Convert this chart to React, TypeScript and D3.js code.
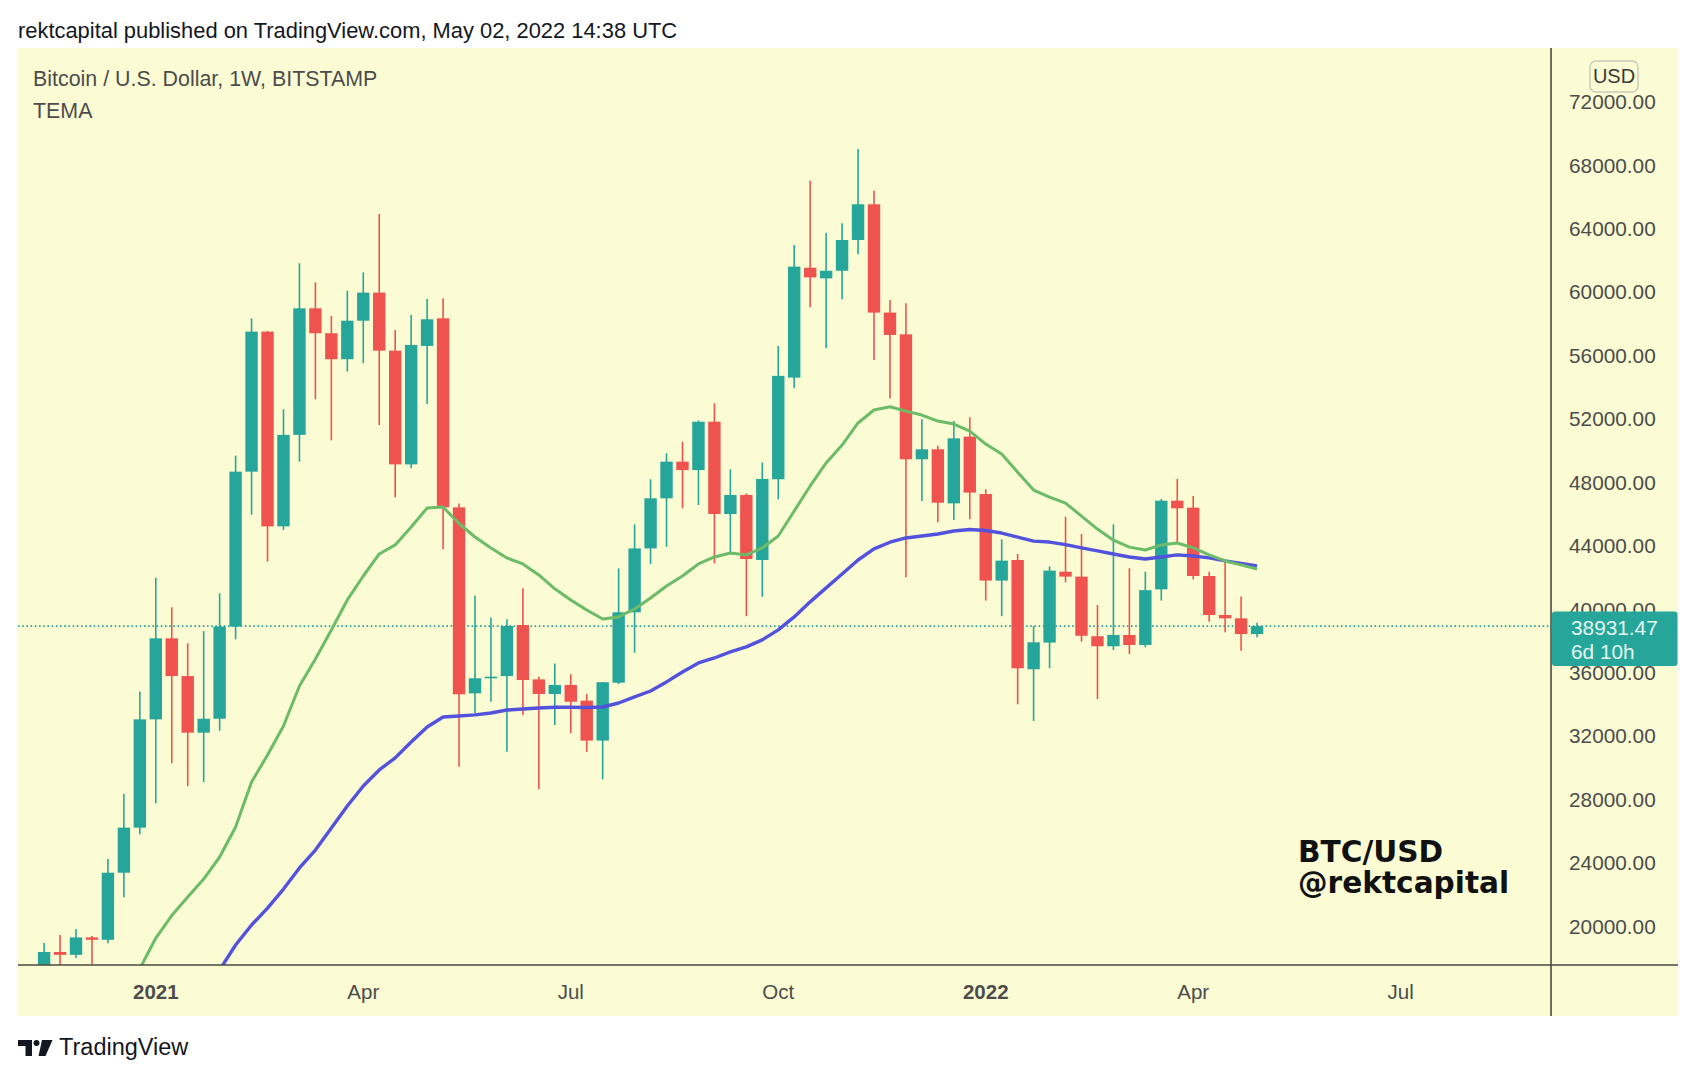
import * as React from 'react';
import { useEffect, useRef } from 'react';
import * as d3 from 'd3';

// weekly candles, first bar = week of 2020-11-16
const firstWeek = '2020-11-16';
const opens = [15960, 18380, 18200, 19300, 19150, 23380, 26220, 33050, 38160, 35780, 32210, 33090, 38900, 48670, 57500, 45220, 50990, 58970, 57400, 55760, 58190, 59960, 56300, 49130, 56600, 58340, 46420, 34690, 35640, 35780, 39000, 35570, 34650, 35220, 34230, 31710, 35360, 39800, 43830, 46990, 49300, 48770, 51820, 46000, 47200, 43100, 48190, 54600, 61530, 60860, 61340, 63280, 65530, 58700, 57330, 49450, 50080, 46670, 50880, 47260, 41800, 43100, 36210, 37890, 42360, 42050, 38290, 37660, 38370, 37740, 41250, 46840, 46400, 42090, 39630, 39420, 38430];
const highs = [18950, 19450, 19830, 19390, 24250, 28340, 34800, 41980, 40120, 37840, 38620, 41000, 49680, 58340, 57550, 52600, 61810, 60610, 58490, 60080, 61240, 64920, 57600, 58550, 59560, 59600, 46670, 40850, 39480, 39360, 41310, 35740, 36580, 35900, 34650, 35400, 42570, 45340, 48190, 49830, 50560, 51900, 52980, 48820, 47300, 49240, 56600, 62960, 67020, 63740, 64330, 69020, 66390, 59490, 59290, 51970, 50300, 51860, 52100, 47560, 44400, 43480, 38940, 42700, 45830, 44740, 40260, 45350, 42580, 42360, 46950, 48210, 47140, 42360, 43060, 40790, 39150];
const lows = [15800, 16200, 18000, 17600, 18930, 21830, 25800, 27760, 30280, 28840, 29100, 32330, 38100, 45950, 43000, 45000, 49300, 53230, 50650, 54980, 55510, 51610, 47050, 48880, 52940, 43780, 30060, 33430, 34160, 31010, 33320, 28650, 32700, 32170, 31010, 29270, 35280, 37250, 42850, 43930, 46360, 46570, 42890, 43520, 39560, 40780, 46930, 53930, 59030, 56450, 59540, 62380, 55710, 53290, 42010, 46820, 45480, 45620, 45670, 40540, 39560, 34000, 32950, 36270, 41690, 37950, 34330, 37420, 37170, 37590, 40540, 44210, 41880, 39210, 38540, 37380, 38220];
const closes = [18380, 18200, 19300, 19150, 23380, 26220, 33050, 38160, 35780, 32210, 33090, 38900, 48670, 57500, 45220, 50990, 58970, 57400, 55760, 58190, 59960, 56300, 49130, 56660, 58280, 46420, 34630, 35640, 35740, 38940, 35530, 34650, 35220, 34160, 31710, 35390, 39800, 43830, 46990, 49300, 48770, 51820, 46000, 47200, 43160, 48210, 54710, 61600, 60920, 61340, 63280, 65530, 58700, 57290, 49450, 50080, 46710, 50770, 47350, 41800, 43060, 36270, 37910, 42430, 42050, 38320, 37660, 38370, 37740, 41200, 46840, 46360, 42090, 39630, 39420, 38430, 38931.47];

// TEMA lines
const greenStart = 6; // week of 2020-12-28
const greenTema = [17330, 19260, 20680, 21850, 22980, 24370, 26260, 29100, 30800, 32630, 35150, 36860, 38690, 40580, 42090, 43480, 44050, 45180, 46380, 46440, 45400, 44550, 43860, 43230, 42850, 42160, 41280, 40580, 39950, 39380, 39510, 40010, 40700, 41460, 42090, 42850, 43290, 43540, 43420, 43860, 44610, 46190, 47770, 49220, 50350, 51740, 52560, 52760, 52490, 52240, 51860, 51670, 51230, 50410, 49780, 48640, 47510, 47070, 46690, 45870, 45050, 44350, 43910, 43730, 44050, 44170, 43860, 43420, 43040, 42790, 42530];
const blueStart = 11; // week of 2021-02-01
const blueTema = [17250, 18820, 20080, 21150, 22350, 23680, 24810, 26200, 27590, 28850, 29860, 30620, 31620, 32570, 33200, 33260, 33330, 33450, 33640, 33700, 33770, 33810, 33810, 33800, 33830, 34080, 34470, 34840, 35410, 36040, 36610, 36920, 37300, 37620, 38060, 38690, 39510, 40460, 41340, 42220, 43100, 43800, 44220, 44490, 44610, 44740, 44930, 45020, 44960, 44800, 44540, 44290, 44230, 44070, 43860, 43670, 43480, 43290, 43160, 43290, 43420, 43350, 43230, 43040, 42880, 42720];

const priceTicks = d3.range(20000, 72001, 4000);
const timeTicks = ['2021-01-04', '2021-04-05', '2021-07-05', '2021-10-04', '2022-01-03', '2022-04-04', '2022-07-04'];
const timeLabels = ['2021', 'Apr', 'Jul', 'Oct', '2022', 'Apr', 'Jul'];
const lastPrice = 38931.47;

const UP = '#26a69a';
const DOWN = '#ef5350';
const BG = '#fbfcd3';
const FONT = '"Liberation Sans", Arial, sans-serif';

export default function App() {
  const ref = useRef<SVGSVGElement>(null);

  useEffect(() => {
    const svg = d3.select(ref.current);
    svg.selectAll('*').remove();

    const plot = { left: 18, right: 1551, top: 48, bottom: 965 };
    const start = new Date(firstWeek + 'T00:00:00Z');
    const week = (k) => d3.utcMonday.offset(start, k);

    const x = d3.scaleUtc()
      .domain([new Date('2021-01-04T00:00:00Z'), new Date('2022-07-04T00:00:00Z')])
      .range([155.8, 1400.7]);
    const y = d3.scaleLinear().domain([20000, 72000]).range([926.3, 101.7]);

    // page + chart background
    svg.append('rect').attr('width', 1696).attr('height', 1080).attr('fill', '#ffffff');
    svg.append('rect').attr('x', 18).attr('y', 48).attr('width', 1660).attr('height', 968).attr('fill', BG);

    svg.append('text').attr('x', 18).attr('y', 38)
      .style('font-family', FONT).style('font-size', '21.9px').style('fill', '#131722')
      .text('rektcapital published on TradingView.com, May 02, 2022 14:38 UTC');

    const defs = svg.append('defs');
    defs.append('clipPath').attr('id', 'plot-clip')
      .append('rect').attr('x', plot.left).attr('y', plot.top)
      .attr('width', plot.right - plot.left).attr('height', plot.bottom - plot.top);

    const g = svg.append('g').attr('clip-path', 'url(#plot-clip)');

    // last price dotted line
    g.append('line')
      .attr('x1', plot.left).attr('x2', plot.right)
      .attr('y1', y(lastPrice)).attr('y2', y(lastPrice))
      .attr('stroke', UP).attr('stroke-width', 1.6).attr('stroke-dasharray', '1.6 2.6');

    // candles
    const candles = opens.map((o, k) => ({ date: week(k), o, h: highs[k], l: lows[k], c: closes[k] }));
    const bodyW = 12.4;
    const cg = g.append('g');
    cg.selectAll('line.wick').data(candles).enter().append('line')
      .attr('class', 'wick')
      .attr('x1', d => x(d.date)).attr('x2', d => x(d.date))
      .attr('y1', d => y(d.h)).attr('y2', d => y(d.l))
      .attr('stroke', d => (d.c >= d.o ? UP : DOWN)).attr('stroke-width', 1.6);
    cg.selectAll('rect.body').data(candles).enter().append('rect')
      .attr('class', 'body')
      .attr('x', d => x(d.date) - bodyW / 2)
      .attr('width', bodyW)
      .attr('y', d => y(Math.max(d.o, d.c)))
      .attr('height', d => Math.max(1.5, Math.abs(y(d.o) - y(d.c))))
      .attr('fill', d => (d.c >= d.o ? UP : DOWN));

    // TEMA lines
    const line = d3.line<any>().x(d => x(d.date)).y(d => y(d.v));
    const greenPts = greenTema.map((v, k) => ({ date: week(greenStart + k), v }));
    const bluePts = blueTema.map((v, k) => ({ date: week(blueStart + k), v }));
    g.append('path').datum(bluePts).attr('d', line)
      .attr('fill', 'none').attr('stroke', '#5252dd').attr('stroke-width', 3.4).attr('stroke-linejoin', 'round');
    g.append('path').datum(greenPts).attr('d', line)
      .attr('fill', 'none').attr('stroke', '#6cbb68').attr('stroke-width', 3).attr('stroke-linejoin', 'round');

    // frame lines
    svg.append('line').attr('x1', 18).attr('x2', 1678).attr('y1', plot.bottom).attr('y2', plot.bottom)
      .attr('stroke', '#4a4a3f').attr('stroke-width', 1.6);
    svg.append('line').attr('x1', plot.right).attr('x2', plot.right).attr('y1', 48).attr('y2', 1016)
      .attr('stroke', '#4a4a3f').attr('stroke-width', 1.6);

    // legend
    svg.append('text').attr('x', 33).attr('y', 86)
      .style('font-family', FONT).style('font-size', '21.4px').style('fill', '#4c4c4c')
      .text('Bitcoin / U.S. Dollar, 1W, BITSTAMP');
    svg.append('text').attr('x', 33).attr('y', 118)
      .style('font-family', FONT).style('font-size', '21.4px').style('fill', '#4c4c4c')
      .text('TEMA');

    // price axis
    svg.append('g').selectAll('text').data(priceTicks).enter().append('text')
      .attr('x', 1569).attr('y', d => y(d)).attr('dy', '0.36em')
      .style('font-family', FONT).style('font-size', '20.8px').style('fill', '#4c4c4c')
      .text(d => d3.format('.2f')(d));

    const usd = svg.append('g');
    usd.append('rect').attr('x', 1590).attr('y', 61).attr('width', 48).attr('height', 31).attr('rx', 6)
      .attr('fill', BG).attr('stroke', '#c9c9b8').attr('stroke-width', 1.4);
    usd.append('text').attr('x', 1614).attr('y', 83).attr('text-anchor', 'middle')
      .style('font-family', FONT).style('font-size', '20px').style('fill', '#3a3a3a').text('USD');

    // last price tag
    const tag = svg.append('g');
    tag.append('rect').attr('x', 1552).attr('y', 611.5).attr('width', 125.5).attr('height', 54.5).attr('rx', 3)
      .attr('fill', UP);
    tag.append('text').attr('x', 1571).attr('y', 635)
      .style('font-family', FONT).style('font-size', '20.8px').style('fill', '#e4f6f2')
      .text(d3.format('.2f')(lastPrice));
    tag.append('text').attr('x', 1571).attr('y', 659)
      .style('font-family', FONT).style('font-size', '20.8px').style('fill', '#e4f6f2')
      .text('6d 10h');

    // time axis
    svg.append('g').selectAll('text').data(timeTicks).enter().append('text')
      .attr('x', d => x(new Date(d + 'T00:00:00Z'))).attr('y', 999)
      .attr('text-anchor', 'middle')
      .style('font-family', FONT).style('font-size', '20.5px').style('fill', '#4c4c4c')
      .style('font-weight', (d, k) => (timeLabels[k].length === 4 ? 'bold' : 'normal'))
      .text((d, k) => timeLabels[k]);

    // watermark
    const WM = '"DejaVu Sans", sans-serif';
    svg.append('text').attr('x', 1298).attr('y', 862)
      .style('font-family', WM).style('font-size', '29.6px').style('font-weight', 'bold').style('fill', '#111111')
      .text('BTC/USD');
    svg.append('text').attr('x', 1298).attr('y', 893)
      .style('font-family', WM).style('font-size', '29.6px').style('font-weight', 'bold').style('fill', '#111111')
      .text('@rektcapital');

    // TradingView footer logo
    const logo = svg.append('g').attr('fill', '#131722');
    logo.append('path').attr('d', 'M18,1040 H32 V1056 H25.5 V1046 H18 Z');
    logo.append('circle').attr('cx', 36.5).attr('cy', 1043).attr('r', 3);
    logo.append('path').attr('d', 'M42,1040 H52.5 L45.5,1056 H38.5 Z');
    svg.append('text').attr('x', 59).attr('y', 1055)
      .style('font-family', FONT).style('font-size', '23.5px').style('fill', '#131722')
      .text('TradingView');
  }, []);

  return (
    <div id="chart">
      <svg ref={ref} width={1696} height={1080}
        style={{ position: 'absolute', left: 0, top: 0, display: 'block' }} />
    </div>
  );
}
